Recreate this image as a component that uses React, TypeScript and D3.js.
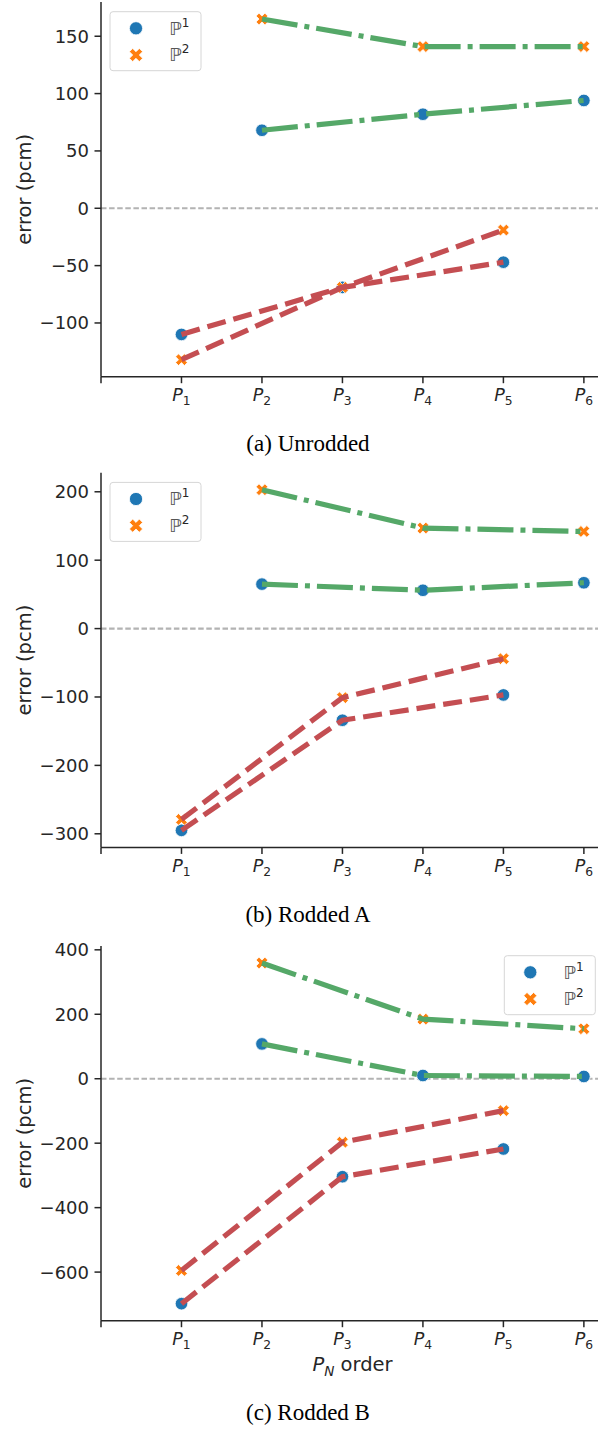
import React from 'react';
import * as d3 from 'd3';

// P_N orders (x positions), odd orders are drawn red, even orders green
const orders = [1, 2, 3, 4, 5, 6];
const xTickValues = [0, 1, 2, 3, 4, 5, 6];
const xTickLabels = ['', '1', '2', '3', '4', '5', '6'];
const legendLabels = ['1', '2'];

// error (pcm), index i -> order i+1
const unroddedP1 = [-110, 68, -69, 82, -47, 94];
const unroddedP2 = [-132, 165, -69, 141, -19, 141];
const roddedAP1 = [-295, 65, -134, 56, -97, 67];
const roddedAP2 = [-279, 203, -101, 147, -44, 142];
const roddedBP1 = [-698, 108, -304, 10, -218, 7];
const roddedBP2 = [-595, 359, -197, 185, -99, 155];

const captions = ['(a) Unrodded', '(b) Rodded A', '(c) Rodded B'];

const BLUE = '#1f77b4';
const ORANGE = '#ff7f0e';
const GREEN = '#55a868';
const RED = '#c44e52';
const INK = '#262626';
const SANS = '"DejaVu Sans", sans-serif';

const W = 598;
const H = 1429;
const AX_LEFT = 101;
const AX_RIGHT = 604;
const AX_H = 374.7;

const xScale = d3.scaleLinear().domain([0, 6.25]).range([AX_LEFT, AX_RIGHT]);

const xPath = (s: number) => {
  const h = 0.5 * s, t = s / 6;
  const pts = [
    [t, t], [t, h], [-t, h], [-t, t], [-h, t], [-h, -t],
    [-t, -t], [-t, -h], [t, -h], [t, -t], [h, -t], [h, t],
  ];
  const c = Math.SQRT1_2;
  return 'M' + pts.map(([x, y]) => `${(x - y) * c},${(x + y) * c}`).join('L') + 'Z';
};

const Marker = ({ kind, x, y, big }: { kind: number; x: number; y: number; big?: boolean }) =>
  kind === 0 ? (
    <circle cx={x} cy={y} r={big ? 6.6 : 6.3} fill={BLUE} stroke="#fff" strokeWidth={0.8} />
  ) : (
    <path d={xPath(big ? 14 : 12.5)} transform={`translate(${x},${y})`} fill={ORANGE} stroke="#fff" strokeWidth={0.8} />
  );

type PanelProps = {
  top: number;
  p1: number[];
  p2: number[];
  legendX: number;
  caption: string;
  captionY: number;
  xLabel?: boolean;
};

const Panel = ({ top, p1, p2, legendX, caption, captionY, xLabel }: PanelProps) => {
  const all = [...p1, ...p2];
  const [mn, mx] = d3.extent(all) as [number, number];
  const pad = (mx - mn) * 0.05;
  const y = d3.scaleLinear().domain([mn - pad, mx + pad]).range([top + AX_H, top]);
  const bottom = top + AX_H;
  const yTicks = y.ticks(6);
  const line = d3.line<[number, number]>().x(d => xScale(d[0])).y(d => y(d[1]));

  const series = [p1, p2];
  const sub = (vals: number[], odd: boolean) =>
    orders.map((o, i) => [o, vals[i]] as [number, number]).filter(d => (d[0] % 2 === 1) === odd);

  return (
    <g>
      {/* zero reference */}
      <line x1={AX_LEFT} x2={W} y1={y(0)} y2={y(0)} stroke="#b3b3b3" strokeWidth={2.2} strokeDasharray="5.5,2.6" />

      {/* markers */}
      {series.map((vals, k) =>
        orders.map((o, i) => <Marker key={`${k}-${i}`} kind={k} x={xScale(o)} y={y(vals[i])} />)
      )}

      {/* lines */}
      {series.map((vals, k) => (
        <g key={k}>
          <path d={line(sub(vals, true)) || ''} fill="none" stroke={RED} strokeWidth={5.2} strokeDasharray="19,8" />
          <path d={line(sub(vals, false)) || ''} fill="none" stroke={GREEN} strokeWidth={5.2} strokeDasharray="36,7,5,7" />
        </g>
      ))}

      {/* axes */}
      <line x1={AX_LEFT} x2={AX_LEFT} y1={top} y2={bottom} stroke={INK} strokeWidth={1.5} />
      <line x1={AX_LEFT} x2={AX_RIGHT} y1={bottom} y2={bottom} stroke={INK} strokeWidth={1.5} />
      {yTicks.map(t => (
        <g key={t}>
          <line x1={AX_LEFT - 6.5} x2={AX_LEFT} y1={y(t)} y2={y(t)} stroke={INK} strokeWidth={1.5} />
          <text x={AX_LEFT - 12} y={y(t)} dy="0.36em" textAnchor="end" fontFamily={SANS} fontSize={18} fill={INK}>
            {t < 0 ? `\u2212${-t}` : t}
          </text>
        </g>
      ))}
      {xTickValues.map((v, i) => (
        <g key={v}>
          <line x1={xScale(v)} x2={xScale(v)} y1={bottom} y2={bottom + 6.5} stroke={INK} strokeWidth={1.5} />
          {xTickLabels[i] && (
            <text x={xScale(v)} y={bottom + 24.3} textAnchor="middle" fontFamily={SANS} fontSize={17.5} fill={INK}>
              <tspan fontStyle="italic">P</tspan>
              <tspan fontSize={12.3} dy={4}>{xTickLabels[i]}</tspan>
            </text>
          )}
        </g>
      ))}
      <text
        transform={`translate(${31},${top + AX_H / 2}) rotate(-90)`}
        textAnchor="middle"
        fontFamily={SANS}
        fontSize={19.5}
        fill={INK}
      >
        error (pcm)
      </text>
      {xLabel && (
        <text x={(AX_LEFT + AX_RIGHT) / 2} y={bottom + 50.5} textAnchor="middle" fontFamily={SANS} fontSize={19.5} fill={INK}>
          <tspan fontStyle="italic">P</tspan>
          <tspan fontSize={13.6} fontStyle="italic" dy={4.5}>N</tspan>
          <tspan dy={-4.5}> order</tspan>
        </text>
      )}

      {/* legend */}
      <g transform={`translate(${legendX},${top + 9.7})`}>
        <rect x={0} y={0} width={91} height={59} rx={3} fill="#fff" stroke="#d6d6d6" strokeWidth={1} />
        {legendLabels.map((lab, k) => (
          <g key={lab}>
            <Marker kind={k} x={26} y={16.6 + k * 26.7} big />
            <text x={59} y={23 + k * 26.7} fontFamily={SANS} fontSize={18} fill={INK}>
              <tspan fill="#555">{'\u2119'}</tspan>
              <tspan fontSize={12} dy={-8}>{lab}</tspan>
            </text>
          </g>
        ))}
      </g>

      <text x={308} y={captionY} textAnchor="middle" fontFamily='"Liberation Serif", "Times New Roman", serif' fontSize={23} fill="#000">
        {caption}
      </text>
    </g>
  );
};

export default function App() {
  return (
    <svg width={W} height={H} style={{ position: 'absolute', left: 0, top: 0, background: '#fff' }}>
      <rect width={W} height={H} fill="#fff" />
      <Panel top={2} p1={unroddedP1} p2={unroddedP2} legendX={110} caption={captions[0]} captionY={451} />
      <Panel top={472.7} p1={roddedAP1} p2={roddedAP2} legendX={110} caption={captions[1]} captionY={922} />
      <Panel top={946} p1={roddedBP1} p2={roddedBP2} legendX={504.3} caption={captions[2]} captionY={1420} xLabel />
    </svg>
  );
}
